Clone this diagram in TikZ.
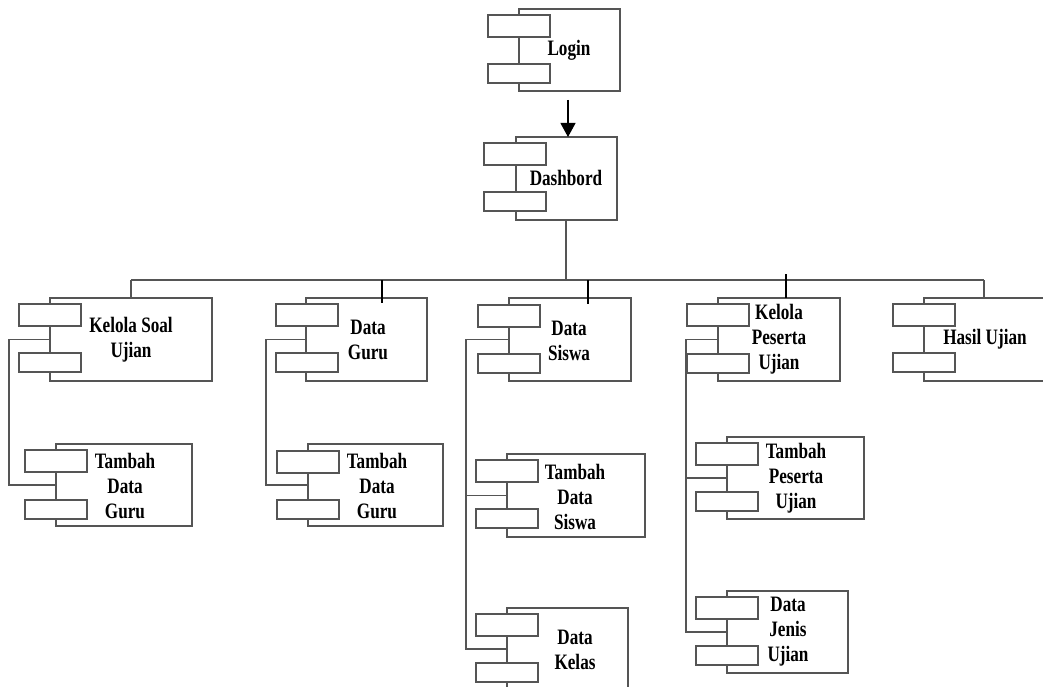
\documentclass[tikz,border=0pt]{standalone}
\usepackage{fontspec}
\newfontfamily\lbl{Liberation Serif}[FakeStretch=0.78]
\usetikzlibrary{arrows.meta}
\definecolor{ln}{RGB}{85,85,85}
\tikzset{
  box/.style={draw=ln, line width=1.3bp, fill=white, inner sep=0pt, outer sep=0pt},
  tab/.style={draw=ln, line width=1.3bp, fill=white, inner sep=0pt, outer sep=0pt, minimum width=62bp},
  lbl/.style={font=\lbl\bfseries\fontsize{22bp}{25bp}\selectfont, align=center, inner sep=0pt, text=black},
  wire/.style={draw=ln, line width=1.5bp},
  blk/.style={draw=black, line width=1.1bp},
}
% #1 id, #2 left, #3 top, #4 right, #5 bottom, #6 tab left, #7 tab1 top, #8 tab2 top
\newcommand\comp[8]{%
  \node[box, minimum width={(#4-#2)*1bp}, minimum height={(#5-#3)*1bp}] (#1) at ({(#2+#4)/2},{(#3+#5)/2}) {};
  \node[tab, minimum height=22bp] (#1-t1) at ({#6+31},{#7+11}) {};
  \node[tab, minimum height=19bp] (#1-t2) at ({#6+31},{#8+9.5}) {};
}
\begin{document}
\begin{tikzpicture}[x=1bp,y=-1bp]
\clip (0,0) rectangle (1043,687);
\fill[white] (0,0) rectangle (1043,687);

% components
\comp{login}{519}{9}{620}{91}{488}{15}{64}
\comp{dash}{516}{137}{617}{220}{484}{143}{192}
\comp{ks}{50}{298}{212}{381}{19}{304}{353}
\comp{dg}{306}{298}{427}{381}{276}{304}{353}
\comp{ds}{509}{298}{631}{381}{478}{305}{354}
\comp{kp}{718}{298}{840}{381}{687}{304}{354}
\comp{hu}{924}{298}{1070}{381}{893}{304}{353}
\comp{tdg1}{56}{444}{192}{526}{25}{450}{500}
\comp{tdg2}{308}{444}{443}{526}{277}{451}{500}
\comp{tds}{507}{454}{645}{537}{476}{460}{509}
\comp{dk}{507}{608}{628}{690}{476}{614}{663}
\comp{tpu}{727}{437}{864}{519}{696}{443}{492}
\comp{dju}{727}{591}{848}{673}{696}{597}{646}

% labels
\node[lbl] (l-login) at (569,50) {Login};
\node[lbl] (l-dash) at (566,178) {Dashbord};
\node[lbl] (l-ks) at (131,339.5) {Kelola Soal\\Ujian};
\node[lbl] (l-dg) at (368,340) {Data\\Guru};
\node[lbl] (l-ds) at (569,340.5) {Data\\Siswa};
\node[lbl] (l-kp) at (779,339.5) {Kelola\\Peserta\\Ujian};
\node[lbl] (l-hu) at (985,339) {Hasil Ujian};
\node[lbl] (l-tdg1) at (125,486) {Tambah\\Data\\Guru};
\node[lbl] (l-tdg2) at (377,486) {Tambah\\Data\\Guru};
\node[lbl] (l-tds) at (575,496.5) {Tambah\\Data\\Siswa};
\node[lbl] (l-dk) at (575,650) {Data\\Kelas};
\node[lbl] (l-tpu) at (796,478) {Tambah\\Peserta\\Ujian};
\node[lbl] (l-dju) at (788,632) {Data\\Jenis\\Ujian};

% connectors
\coordinate (arrS) at (568,100);
\draw[blk, -{Triangle[length=14bp,width=15bp]}] (arrS) -- (arrS |- dash.north);
\coordinate (busL) at (131,280);
\coordinate (busR) at (984,280);
\draw[wire] (dash.south -| 566,0) -- (566,280);
\draw[wire] (busL) -- (busR);
\draw[wire] (busL) -- (busL |- ks.north);
\draw[wire] (busR) -- (busR |- hu.north);
\draw[blk] (382,280) -- (382,303);
\draw[blk] (588,280) -- (588,304);
\draw[blk] (786,274) -- (786,298);

\draw[wire] (ks.west) -- (9,339.5) |- (tdg1.west);
\draw[wire] (dg.west) -- (266,339.5) |- (tdg2.west);
\draw[wire] (ds.west) -- (466,339.5) |- (dk.west);
\draw[wire] (466,495.5) -- (tds.west);
\draw[wire] (kp.west) -- (686,339.5) |- (dju.west);
\draw[wire] (686,478) -- (tpu.west);
\end{tikzpicture}
\end{document}
